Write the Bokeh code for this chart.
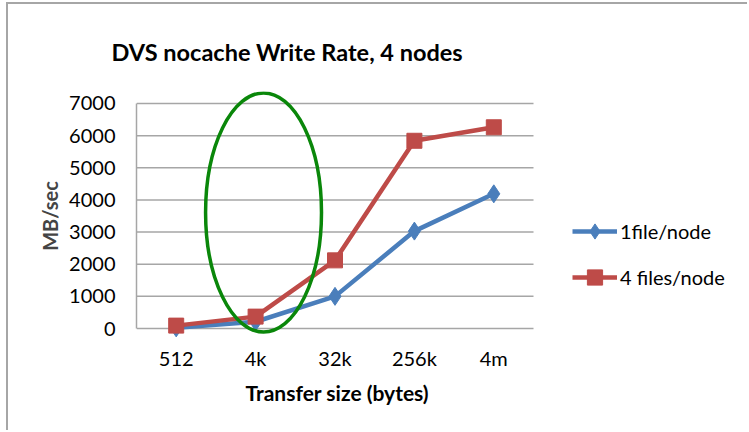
from bokeh.plotting import figure
from bokeh.models import Legend, LegendItem, FixedTicker, Range1d, Title
from bokeh.embed import file_html
from bokeh.resources import INLINE

sizes = ["512", "4k", "32k", "256k", "4m"]
one_file = [20, 210, 1000, 3030, 4190]
four_files = [90, 370, 2120, 5840, 6260]
y_ticks = [0, 1000, 2000, 3000, 4000, 5000, 6000, 7000]

title_text = "DVS nocache Write Rate, 4 nodes"
x_title = "Transfer size (bytes)"
y_title = "MB/sec"
series_names = ["1file/node", "4 files/node"]

# highlight ellipse around the 4k column (category index 1, slightly right)
ell_x = 1.6
ell_y = 3610
ell_w = 1.46
ell_h = 7440

BLUE = "#4a7ebb"
RED = "#be4b48"
GREEN = "#0a870a"
GRID = "#a6a6a6"
FONT = "Lato"

OX, OY = 8, 4  # canvas offset inside the outer border
PLOT_L, PLOT_R, FRAME_R = 136, 533, 749

n = len(sizes)
x_pos = [i + 0.5 for i in range(n)]
x_end = n * (FRAME_R - PLOT_L) / (PLOT_R - PLOT_L)

p = figure(
    width=741, height=428,
    x_range=Range1d(0, x_end),
    y_range=Range1d(-373, 7373),
    output_backend="svg", toolbar_location=None,
    min_border_left=PLOT_L - OX, min_border_right=0,
    min_border_top=91 - OY, min_border_bottom=432 - 340,
)
p.margin = (2, 0, 0, 6)
p.styles = {"border-left": "2px solid #a6a6a6", "border-top": "2px solid #a6a6a6"}
p.outline_line_color = None
p.background_fill_color = "white"
p.border_fill_color = "white"

# title
p.title.text = title_text
p.title.align = "left"
p.title.offset = 111 - PLOT_L
p.title.text_font = FONT
p.title.text_font_style = "bold"
p.title.text_font_size = "23.5px"
p.title.text_color = "black"
p.title.standoff = 51

# axes
p.xaxis.ticker = FixedTicker(ticks=x_pos)
p.xaxis.major_label_overrides = {x: s for x, s in zip(x_pos, sizes)}
p.xaxis.bounds = (0, n)
p.xaxis.axis_line_color = None
p.xaxis.major_tick_line_color = None
p.xaxis.minor_tick_line_color = None
p.xaxis.major_tick_out = 0
p.xaxis.major_tick_in = 0
p.xaxis.minor_tick_out = 0
p.xaxis.major_label_text_font = FONT
p.xaxis.major_label_text_font_size = "20px"
p.xaxis.major_label_text_color = "black"
p.xaxis.major_label_standoff = 5

# x-axis title, centred under the plot area (not the whole frame)
x_label = Title(text=x_title, align="left", offset=245 - PLOT_L,
                text_font=FONT, text_font_style="bold", text_font_size="21px",
                text_color="black", standoff=10)
p.add_layout(x_label, "below")

p.yaxis.ticker = FixedTicker(ticks=y_ticks)
p.yaxis.bounds = (0, 7000)
p.yaxis.axis_line_color = GRID
p.yaxis.axis_line_width = 1.5
p.yaxis.major_tick_line_color = None
p.yaxis.minor_tick_line_color = None
p.yaxis.major_tick_out = 0
p.yaxis.major_tick_in = 0
p.yaxis.minor_tick_out = 0
p.yaxis.major_label_text_font = FONT
p.yaxis.major_label_text_font_size = "20px"
p.yaxis.major_label_text_color = "black"
p.yaxis.major_label_standoff = 21
p.yaxis.axis_label = y_title
p.yaxis.axis_label_text_font = FONT
p.yaxis.axis_label_text_font_style = "bold"
p.yaxis.axis_label_text_font_size = "20px"
p.yaxis.axis_label_standoff = 4

p.xgrid.grid_line_color = None
p.ygrid.grid_line_color = None

# horizontal gridlines only across the plot area
p.segment(x0=[0] * len(y_ticks), x1=[n] * len(y_ticks), y0=y_ticks, y1=y_ticks,
          line_color=GRID, line_width=1.5)

# series
l1 = p.line(x_pos, one_file, line_color=BLUE, line_width=4.5)
m1 = p.scatter(x_pos, one_file, marker="diamond", size=18, fill_color=BLUE, line_color=BLUE)
l2 = p.line(x_pos, four_files, line_color=RED, line_width=4.5)
m2 = p.scatter(x_pos, four_files, marker="square", size=15, fill_color=RED, line_color=RED)

# highlight ellipse
p.ellipse(x=[ell_x], y=[ell_y], width=[ell_w], height=[ell_h],
          fill_color=None, line_color=GREEN, line_width=3.5)

legend = Legend(
    items=[LegendItem(label=series_names[0], renderers=[l1, m1]),
           LegendItem(label=series_names[1], renderers=[l2, m2])],
    location=(572 - PLOT_L, 340 - 296),
    glyph_width=45, glyph_height=38, spacing=8, label_standoff=3,
    padding=0, margin=0,
    border_line_alpha=0, background_fill_alpha=0,
    label_text_font=FONT, label_text_font_size="20px", label_text_color="black",
)
p.add_layout(legend, "center")

open("out.html", "w").write(file_html(p, INLINE))
